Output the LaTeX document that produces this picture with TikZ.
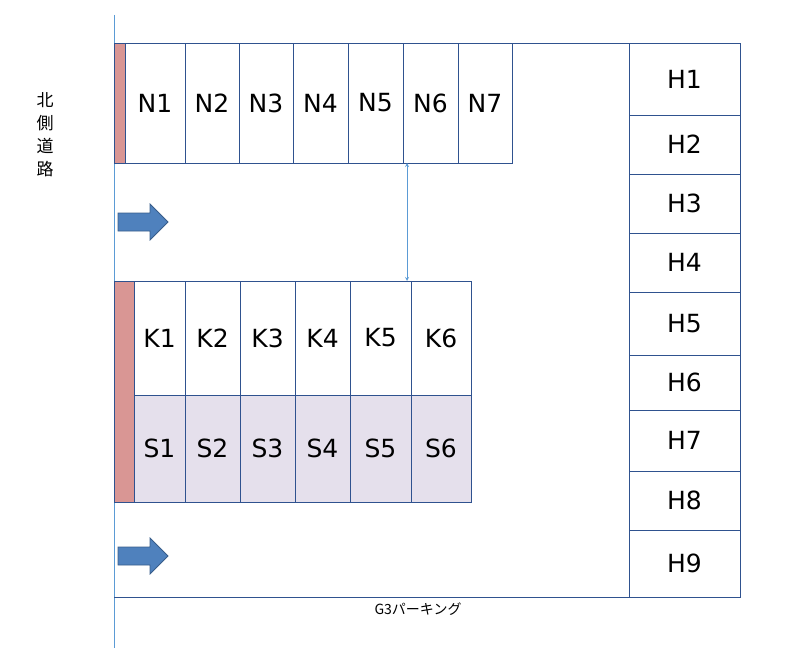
\documentclass[tikz,border=0pt]{standalone}
\usepackage{fontspec}
\setmainfont{DejaVu Sans}
\newfontfamily\jpfont{Noto Sans CJK JP}
\definecolor{frameblue}{RGB}{47,82,143}
\definecolor{roadblue}{RGB}{91,155,213}
\definecolor{curbpink}{RGB}{217,150,148}
\definecolor{slotlilac}{RGB}{229,224,236}
\definecolor{arrowfill}{RGB}{79,129,189}
\definecolor{arrowedge}{RGB}{56,93,138}
\tikzset{
  slot/.style={draw=frameblue, line width=0.8pt, inner sep=0pt, font=\fontsize{25}{25}\selectfont},
  curb/.style={draw=frameblue, fill=curbpink, line width=0.8pt},
  flow/.style={draw=arrowedge, fill=arrowfill, line width=0.8pt, line join=miter},
}
\begin{document}
\begin{tikzpicture}[x=1pt, y=-1pt]
\useasboundingbox (0,0) rectangle (810,666);
% road and site border
\coordinate (roadtop) at (114,15);
\coordinate (roadbot) at (114,648);
\draw [roadblue, line width=0.8pt] (roadtop)--(roadbot);
\draw [frameblue, line width=0.8pt] (114,43)--(740,43)--(740,597)--(114,597);
\node [font=\jpfont\fontsize{17}{23}\selectfont, align=center] (road) at (45,135) {北\\側\\道\\路};
\node [font=\jpfont\fontsize{14}{14}\selectfont] (lot) at (418,609) {G3パーキング};
% north row
\draw [curb] (114,43) rectangle (125,163);
\foreach \xa/\xb [count=\i] in {125/185,185/239,239/293,293/348,348/403,403/458,458/512}
  \node [slot, minimum width=\xb-\xa, minimum height=120] (N\i) at ({(\xa+\xb)/2},103) {N\i};
% middle block
\draw [curb] (114,281) rectangle (134,502);
\foreach \xa/\xb [count=\i] in {134/185,185/240,240/295,295/350,350/411,411/471}{
  \node [slot, minimum width=\xb-\xa, minimum height=114] (K\i) at ({(\xa+\xb)/2},338) {K\i};
  \node [slot, fill=slotlilac, minimum width=\xb-\xa, minimum height=107] (S\i) at ({(\xa+\xb)/2},448.5) {S\i};
}
\draw [<->, roadblue, line width=0.8pt, >=stealth] (407,163)--(407,281);
% east column
\foreach \ya/\yb [count=\i] in {43/115,115/174,174/233,233/292,292/355,355/410,410/471,471/530,530/597}
  \node [slot, minimum width=111, minimum height=\yb-\ya] (H\i) at (684.5,{(\ya+\yb)/2}) {H\i};
% driving direction
\foreach \y [count=\i] in {222,556}{
  \coordinate (in\i) at (118,\y);
  \draw [flow] (in\i) ++(0,-9) -- ++(32,0) -- ++(0,-9) -- ++(18,18) -- ++(-18,18)
    -- ++(0,-9) -- ++(-32,0) -- cycle;
}
\end{tikzpicture}
\end{document}
